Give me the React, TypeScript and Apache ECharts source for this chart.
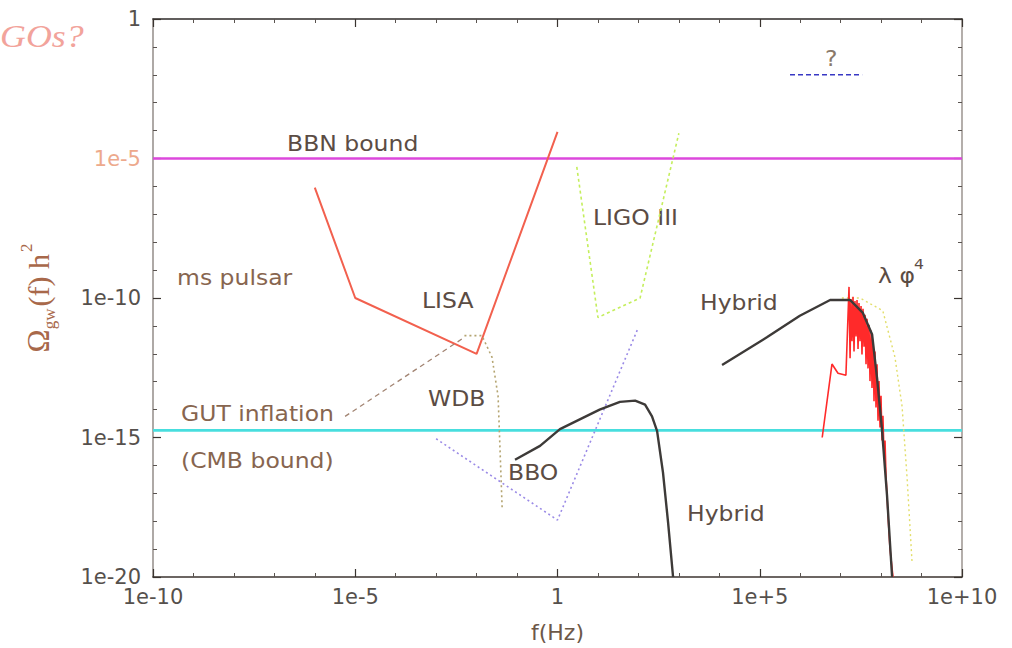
import React, { useEffect, useRef } from 'react';
import * as echarts from 'echarts';

type Pt = [number, number]; // [frequency f in Hz, Omega_gw h^2]

const xTickLabels = ['1e-10', '1e-5', '1', '1e+5', '1e+10'];
const yTickLabels = ['1e-20', '1e-15', '1e-10', '1e-5', '1'];

const bbnBound: Pt[] = [[1e-10, 1e-5], [1e10, 1e-5]];
const cmbBound: Pt[] = [[1e-10, 1.8e-15], [1e10, 1.8e-15]];
const lisa: Pt[] = [[1e-6, 9e-7], [1e-5, 1e-10], [1e-2, 1e-12], [1, 9e-5]];
const ligoIII: Pt[] = [[3, 5e-6], [10, 2e-11], [110, 1e-10], [1000, 8e-5]];
const gutInflation: Pt[] = [[5.6e-6, 5.7e-15], [5e-3, 3.9e-12]];
const wdb: Pt[] = [[5e-3, 4.5e-12], [1.35e-2, 4.5e-12], [0.024, 7.6e-13], [0.034, 3e-14], [0.043, 2.5e-18]];
const bbo: Pt[] = [[1e-3, 9e-16], [1, 1.1e-18], [95, 7.4e-12]];
const hybridLow: Pt[] = [
  [0.089, 1.6e-16], [0.37, 5e-16], [1.15, 2e-15], [11, 1e-14], [35, 1.9e-14], [83, 2.1e-14],
  [146, 1.5e-14], [217, 5.7e-15], [290, 1.7e-15], [405, 5.6e-17], [540, 9.5e-19], [720, 1e-20],
];
const hybridHigh: Pt[] = [
  [1.17e4, 4e-13], [1.5e5, 3.9e-12], [9.8e5, 2.3e-11], [5.5e6, 8.5e-11], [1.7e7, 8.5e-11],
  [3.5e7, 3e-11], [6e7, 4.9e-12], [8e7, 1.2e-13], [1.05e8, 2e-15], [1.4e8, 8.5e-18], [1.87e8, 1e-20],
];
const lambdaPhi4: Pt[] = [
  [1.07e7, 1e-10], [3e7, 1e-10], [1.1e8, 3.5e-11], [2.2e8, 7.6e-13], [3.3e8, 1.3e-14], [4.4e8, 3.4e-17], [5.8e8, 3.7e-20],
];
// oscillating spectrum after the jagged rise
const preheating: Pt[] = [
  [3.5e6, 1e-15], [6.1e6, 4.3e-13], [8.6e6, 2e-13], [1.35e7, 1.7e-13],
  [1.61e7, 2.5e-10], [1.71e7, 6.9e-13], [1.8e7, 9.2e-11], [1.91e7, 2.8e-12], [2.02e7, 1.1e-10],
  [2.14e7, 1.2e-12], [2.26e7, 7.8e-11], [2.4e7, 4.2e-12], [2.54e7, 8.5e-11], [2.69e7, 1.5e-12],
  [2.84e7, 6.6e-11], [3.01e7, 2.8e-12], [3.19e7, 5.2e-11], [3.37e7, 9.5e-13], [3.57e7, 4.1e-11],
  [3.78e7, 1.8e-12], [4.0e7, 2.5e-11], [4.24e7, 4.2e-13], [4.49e7, 1.8e-11], [4.75e7, 3e-13],
  [5.02e7, 1.1e-11], [5.32e7, 1.05e-13], [5.64e7, 6.8e-12], [5.96e7, 5.9e-14], [6.31e7, 2.8e-12],
  [6.68e7, 2e-14], [7.06e7, 1.2e-12], [7.48e7, 1.2e-14], [7.93e7, 4.2e-13], [8.39e7, 4e-15],
  [8.87e7, 1.05e-13], [9.4e7, 2.3e-15], [9.95e7, 3.1e-14], [1.05e8, 7.8e-16], [1.11e8, 6e-15],
  [1.18e8, 2.3e-16], [1.25e8, 7.8e-16], [1.32e8, 4.5e-17], [1.48e8, 1.7e-18], [1.66e8, 1e-19],
  [1.97e8, 1e-20],
];
const unknownBand: Pt[] = [[5.6e5, 1e-2], [3.4e7, 1e-2]];

const toLog = (pts: Pt[]) => pts.map(([f, o]) => [Math.log10(f), Math.log10(o)]);

const lineSeries = (name: string, pts: Pt[], color: string, width: number, dash?: number[] | string, z = 2) => ({
  type: 'line',
  name,
  data: toLog(pts),
  showSymbol: false,
  symbol: 'none',
  silent: true,
  z,
  lineStyle: { color, width, type: dash ?? 'solid' },
});

const FONT = 'DejaVu Sans';
const DARK = '#5b4c44';
const BROWN = '#87654f';

const note = (text: string, x: number, y: number, fill = DARK, size = 21) => ({
  type: 'text',
  x,
  y,
  scaleX: 1.12,
  silent: true,
  style: { text, fill, font: `${size}px "${FONT}"`, align: 'left', verticalAlign: 'middle' },
});

const axisBase = {
  type: 'value',
  splitLine: { show: false },
  minorSplitLine: { show: false },
  axisTick: { show: true, inside: true, length: 8, lineStyle: { color: '#3a3430', width: 1.2 } },
  minorTick: { show: true, splitNumber: 5, length: 4, lineStyle: { color: '#5a5450', width: 1 } },
};

export default function App() {
  const ref = useRef<HTMLDivElement>(null);

  useEffect(() => {
    if (!ref.current) return;
    const chart = echarts.init(ref.current, null, { renderer: 'svg' });
    chart.setOption({
      animation: false,
      backgroundColor: '#ffffff',
      grid: { left: 153, right: 50, top: 19, bottom: 65 },
      xAxis: [
        {
          ...axisBase,
          min: -10,
          max: 10,
          interval: 5,
          position: 'bottom',
          axisLine: { show: true, onZero: false, lineStyle: { color: '#3c3530', width: 1.6 } },
          axisLabel: {
            formatter: (v: number) => xTickLabels[Math.round((v + 10) / 5)],
            fontFamily: FONT,
            fontSize: 21,
            color: '#55504c',
            margin: 9,
          },
          name: 'f(Hz)',
          nameLocation: 'middle',
          nameGap: 44,
          nameTextStyle: { fontFamily: FONT, fontSize: 22, color: '#6d5848' },
        },
        {
          ...axisBase,
          min: -10,
          max: 10,
          interval: 5,
          position: 'top',
          axisLine: { show: true, onZero: false, lineStyle: { color: '#2e2a28', width: 1.6 } },
          axisLabel: { show: false },
        },
      ],
      yAxis: [
        {
          ...axisBase,
          min: -20,
          max: 0,
          interval: 5,
          position: 'left',
          axisLine: { show: true, onZero: false, lineStyle: { color: '#9a9490', width: 1.6 } },
          axisLabel: {
            formatter: (v: number) => {
              const t = yTickLabels[Math.round((v + 20) / 5)];
              return v === -5 ? `{s|${t}}` : t;
            },
            rich: { s: { color: '#eda98c', fontFamily: FONT, fontSize: 21 } },
            fontFamily: FONT,
            fontSize: 21,
            color: '#55504c',
            margin: 12,
          },
          name: '{o|Ω}{s|gw}{n|(f) h}{p|2}',
          nameLocation: 'middle',
          nameRotate: 90,
          nameGap: 95,
          nameTextStyle: {
            color: '#a8684a',
            rich: {
              o: { fontFamily: 'Liberation Serif', fontSize: 31, color: '#a8684a', lineHeight: 40, verticalAlign: 'middle' },
              s: { fontFamily: 'Liberation Serif', fontSize: 17, color: '#a8684a', lineHeight: 40, verticalAlign: 'bottom', padding: [0, 2, 0, 0] },
              n: { fontFamily: 'Liberation Serif', fontSize: 30, color: '#a8684a', lineHeight: 40, verticalAlign: 'middle' },
              p: { fontFamily: 'Liberation Serif', fontSize: 17, color: '#a8684a', lineHeight: 40, verticalAlign: 'top', padding: [0, 0, 0, 2] },
            },
          },
        },
        {
          ...axisBase,
          min: -20,
          max: 0,
          interval: 5,
          position: 'right',
          axisLine: { show: true, onZero: false, lineStyle: { color: '#aca6a2', width: 1.8 } },
          axisLabel: { show: false },
        },
      ],
      series: [
        lineSeries('BBN bound', bbnBound, '#dc48dc', 2.6, 'solid', 1),
        lineSeries('CMB bound', cmbBound, '#48dede', 2.6, 'solid', 1),
        lineSeries('LISA', lisa, '#f2604e', 2),
        lineSeries('LIGO III', ligoIII, '#c4ee5c', 1.6, [3, 3]),
        lineSeries('GUT inflation', gutInflation, '#a28472', 1.3, [5, 4]),
        lineSeries('WDB', wdb, '#b4a470', 1.6, [2, 3]),
        lineSeries('BBO', bbo, '#9a8ae6', 1.6, [2, 3]),
        lineSeries('Hybrid low', hybridLow, '#3d3a38', 2.4),
        lineSeries('lambda phi4', lambdaPhi4, '#e2de6a', 1.4, [2, 3]),
        lineSeries('preheating', preheating, '#ff2a2a', 1.6, 'solid', 3),
        lineSeries('Hybrid high', hybridHigh, '#3d3a38', 2.4, 'solid', 4),
        lineSeries('unknown', unknownBand, '#3838c4', 1.6, [5, 3]),
      ],
      graphic: [
        {
          type: 'text',
          x: 0,
          y: 36,
          scaleX: 1.12,
          silent: true,
          style: { text: 'GOs?', fill: '#f2a39b', font: 'italic 32px "Liberation Serif"', align: 'left', verticalAlign: 'middle' },
        },
        note('BBN bound', 287, 143),
        note('LIGO III', 593, 217),
        note('ms pulsar', 177, 277, BROWN),
        note('LISA', 422, 300),
        note('Hybrid', 700, 302),
        note('λ φ', 878, 275),
        note('4', 914, 264, DARK, 14),
        note('WDB', 428, 398),
        note('GUT inflation', 181, 413, BROWN),
        note('(CMB bound)', 181, 460, BROWN),
        note('BBO', 508, 472),
        note('Hybrid', 687, 513),
        note('?', 825, 58, '#8a7a6a'),
      ],
    });
    return () => chart.dispose();
  }, []);

  return <div ref={ref} style={{ position: 'fixed', left: 0, top: 0, width: 1012, height: 648 }} />;
}
